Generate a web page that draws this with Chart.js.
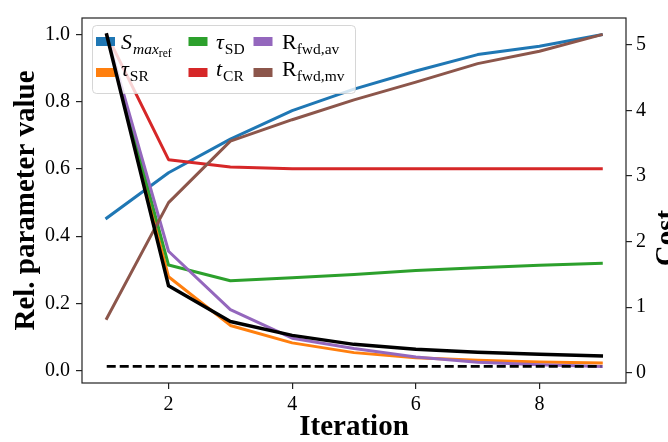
<!DOCTYPE html>
<html>
<head>
<meta charset="utf-8">
<script src="https://cdn.jsdelivr.net/npm/chart.js@4.4.1/dist/chart.umd.min.js"></script>
<style>
  html, body { margin: 0; padding: 0; background: #fff; }
  #wrap { width: 668px; height: 442px; }
</style>
</head>
<body>
<div id="wrap"><canvas id="grafico"></canvas></div>
<script>
// iterations of the calibration
const iteracoes = [1, 2, 3, 4, 5, 6, 7, 8, 9];

// relative parameter values (left axis)
const smaxRef = [0.454, 0.589, 0.689, 0.774, 0.838, 0.892, 0.941, 0.966, 1.0];
const tauSR   = [1.0, 0.279, 0.134, 0.082, 0.053, 0.038, 0.030, 0.025, 0.0225];
const tauSD   = [1.0, 0.314, 0.267, 0.276, 0.286, 0.298, 0.306, 0.313, 0.319];
const tCR     = [1.0, 0.628, 0.606, 0.601, 0.601, 0.601, 0.601, 0.601, 0.601];
const rFwdAv  = [1.0, 0.355, 0.181, 0.096, 0.065, 0.040, 0.0245, 0.0166, 0.012];
const rFwdMv  = [0.155, 0.500, 0.683, 0.747, 0.806, 0.859, 0.914, 0.951, 1.0];

// cost (right axis) and the cost floor
const custo       = [5.15, 1.325, 0.781, 0.570, 0.433, 0.358, 0.313, 0.282, 0.257];
const custoMinX   = [1, 9];
const custoMin    = [0.097, 0.097];

// tick labels
const ticksX  = [2, 4, 6, 8];
const ticksY  = [0.0, 0.2, 0.4, 0.6, 0.8, 1.0];
const ticksY2 = [0, 1, 2, 3, 4, 5];

const FONTE = "'Liberation Serif', 'Times New Roman', serif";

function pontos(xs, ys) {
    return xs.map((x, i) => ({ x: x, y: ys[i] }));
}

// legend entries: [text, style, level] pieces (level 1 = subscript, 2 = sub-subscript)
const legenda = [
    { cor: '#1f77b4', col: 0, lin: 0, partes: [['S', 'i', 0], ['max', 'i', 1], ['ref', 'r', 2]] },
    { cor: '#ff7f0e', col: 0, lin: 1, partes: [['\u03C4', 'i', 0], ['SR', 'r', 1]] },
    { cor: '#2ca02c', col: 1, lin: 0, partes: [['\u03C4', 'i', 0], ['SD', 'r', 1]] },
    { cor: '#d62728', col: 1, lin: 1, partes: [['t', 'i', 0], ['CR', 'r', 1]] },
    { cor: '#9467bd', col: 2, lin: 0, partes: [['R', 'r', 0], ['fwd,av', 'r', 1]] },
    { cor: '#8c564b', col: 2, lin: 1, partes: [['R', 'r', 0], ['fwd,mv', 'r', 1]] }
];

function desenhaLegenda(ctx) {
    ctx.save();
    // frame
    const x0 = 92.5, y0 = 25.5, w = 263, h = 68, r = 4;
    ctx.beginPath();
    ctx.roundRect(x0, y0, w, h, r);
    ctx.fillStyle = 'rgba(255,255,255,0.8)';
    ctx.fill();
    ctx.strokeStyle = 'rgba(204,204,204,0.8)';
    ctx.lineWidth = 1;
    ctx.stroke();

    const colPatch = [96, 188.5, 253.5];
    const colTexto = [121, 216, 282];
    const linCentro = [41.5, 72.5];
    const linBase = [49, 76];
    const tam = [22, 15.5, 11.5];
    const desloc = [0, 5, 7.5];

    legenda.forEach(item => {
        ctx.fillStyle = item.cor;
        ctx.fillRect(colPatch[item.col], linCentro[item.lin] - 4.5, 19, 9);
        let x = colTexto[item.col];
        ctx.fillStyle = '#000';
        ctx.textBaseline = 'alphabetic';
        ctx.textAlign = 'left';
        item.partes.forEach(p => {
            ctx.font = (p[1] === 'i' ? 'italic ' : '') + tam[p[2]] + 'px ' + FONTE;
            ctx.fillText(p[0], x, linBase[item.lin] + desloc[p[2]]);
            x += ctx.measureText(p[0]).width + (p[2] === 0 && p[1] === 'i' ? 1 : 0);
        });
    });
    ctx.restore();
}

const molduraPlugin = {
    id: 'moldura',
    beforeDatasetDraw(chart, args) {
        // legend sits above the parameter lines but under the cost lines
        if (args.index === 1) desenhaLegenda(chart.ctx);
    },
    afterDatasetsDraw(chart) {
        const { ctx, chartArea: a } = chart;
        ctx.save();
        ctx.strokeStyle = '#222';
        ctx.lineWidth = 1.2;
        ctx.strokeRect(a.left, a.top, a.right - a.left, a.bottom - a.top);
        ctx.restore();
    },
    afterDraw(chart) {
        const { ctx, chartArea: a } = chart;
        ctx.save();
        ctx.fillStyle = '#000';
        ctx.font = 'bold 29px ' + FONTE;
        ctx.textAlign = 'center';
        ctx.textBaseline = 'middle';
        ctx.fillText('Iteration', (a.left + a.right) / 2, 428);

        ctx.save();
        ctx.translate(27, (a.top + a.bottom) / 2);
        ctx.rotate(-Math.PI / 2);
        ctx.fillText('Rel. parameter value', 0, 0);
        ctx.restore();

        ctx.save();
        ctx.translate(668, 238);
        ctx.rotate(-Math.PI / 2);
        ctx.fillText('Cost', 0, 0);
        ctx.restore();
        ctx.restore();
    }
};

function serie(dados, cor, eixo, largura, ordem) {
    return {
        data: pontos(iteracoes, dados),
        borderColor: cor,
        backgroundColor: cor,
        borderWidth: largura,
        yAxisID: eixo,
        order: ordem,
        pointRadius: 0,
        tension: 0,
        borderJoinStyle: 'round',
        borderCapStyle: 'square'
    };
}

const grade = { drawOnChartArea: false, drawTicks: true, tickLength: 6, color: '#222', lineWidth: 1.2 };
const fonteTicks = { family: FONTE, size: 20 };

const config = {
    type: 'line',
    data: {
        datasets: [
            serie(custo, '#000000', 'y2', 3.5, 0),
            {
                data: pontos(custoMinX, custoMin),
                borderColor: '#000000',
                borderWidth: 2.6,
                borderDash: [9, 4],
                yAxisID: 'y2',
                order: 1,
                pointRadius: 0
            },
            serie(rFwdMv, '#8c564b', 'y', 3, 2),
            serie(rFwdAv, '#9467bd', 'y', 3, 3),
            serie(tCR, '#d62728', 'y', 3, 4),
            serie(tauSD, '#2ca02c', 'y', 3, 5),
            serie(tauSR, '#ff7f0e', 'y', 3, 6),
            serie(smaxRef, '#1f77b4', 'y', 3, 7)
        ]
    },
    options: {
        responsive: true,
        maintainAspectRatio: false,
        animation: false,
        devicePixelRatio: 1,
        layout: { padding: { top: 15, left: 0, right: 0, bottom: 0 }, autoPadding: false },
        plugins: { legend: { display: false }, tooltip: { enabled: false } },
        scales: {
            x: {
                type: 'linear',
                min: 0.6,
                max: 9.4,
                border: { display: false },
                grid: grade,
                afterBuildTicks: s => { s.ticks = ticksX.map(v => ({ value: v })); },
                afterFit: s => { s.height = 59; },
                ticks: { font: fonteTicks, color: '#000', padding: 4, maxRotation: 0, callback: v => String(v) }
            },
            y: {
                type: 'linear',
                position: 'left',
                min: -0.0375,
                max: 1.05,
                border: { display: false },
                grid: grade,
                afterBuildTicks: s => { s.ticks = ticksY.map(v => ({ value: v })); },
                afterFit: s => { s.width = 82; },
                ticks: { font: fonteTicks, color: '#000', padding: 6, callback: v => v.toFixed(1) }
            },
            y2: {
                type: 'linear',
                position: 'right',
                min: -0.156,
                max: 5.408,
                border: { display: false },
                grid: grade,
                afterBuildTicks: s => { s.ticks = ticksY2.map(v => ({ value: v })); },
                afterFit: s => { s.width = 42; },
                ticks: { font: fonteTicks, color: '#000', padding: 4, callback: v => String(v) }
            }
        }
    },
    plugins: [molduraPlugin]
};

const grafico = new Chart(document.getElementById('grafico'), config);
</script>
</body>
</html>
